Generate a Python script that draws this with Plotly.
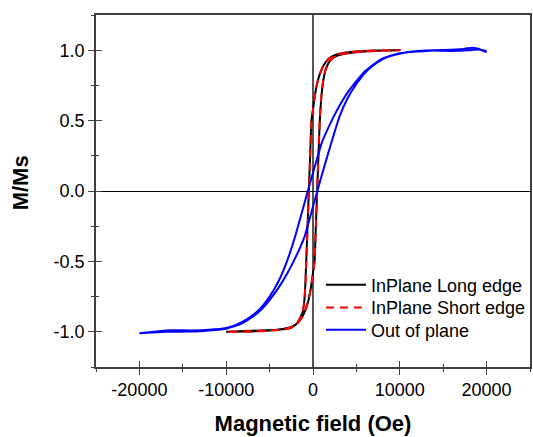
import plotly.graph_objects as go

# ---- data ----
# InPlane Long edge: descending branch then ascending branch
long_desc_h = [10000, 7000, 5000, 3500, 2500, 1800, 1300, 900, 500, 200, 0, -180, -330, -480, -630, -780,
               -880, -1000, -1200, -1550, -2000, -2700, -4000, -6000, -8000, -10000]
long_desc_m = [1.0, 0.997, 0.99, 0.98, 0.965, 0.94, 0.9, 0.85, 0.77, 0.67, 0.58, 0.5, 0.25, 0.0, -0.25, -0.5,
               -0.66, -0.78, -0.86, -0.91, -0.95, -0.975, -0.985, -0.99, -0.995, -1.0]
long_asc_h = [-10000, -7000, -5000, -3500, -2500, -1800, -1300, -900, -500, -200, 0, 180, 330, 480, 630, 780,
              950, 1150, 1450, 1800, 2300, 3000, 4000, 5000, 7000, 10000]
long_asc_m = [-1.0, -0.997, -0.99, -0.98, -0.965, -0.94, -0.9, -0.85, -0.77, -0.67, -0.58, -0.5, -0.25, 0.0, 0.25, 0.5,
              0.66, 0.77, 0.86, 0.91, 0.945, 0.965, 0.978, 0.986, 0.995, 1.0]

# InPlane Short edge
short_desc_h = [10000, 7000, 5000, 3500, 2500, 1800, 1300, 900, 500, 200, 0, -170, -320, -470, -620, -770,
                -870, -990, -1200, -1550, -2000, -2700, -4000, -6000, -8000, -10000]
short_desc_m = [1.0, 0.997, 0.99, 0.979, 0.963, 0.938, 0.9, 0.85, 0.77, 0.67, 0.58, 0.5, 0.25, 0.0, -0.25, -0.5,
                -0.66, -0.78, -0.86, -0.91, -0.95, -0.976, -0.988, -0.993, -0.997, -1.0]
short_asc_h = [-10000, -7000, -5000, -3500, -2500, -1800, -1300, -900, -500, -200, 0, 170, 320, 470, 620, 770,
               940, 1140, 1440, 1800, 2300, 3000, 4000, 5000, 7000, 10000]
short_asc_m = [-1.0, -0.998, -0.992, -0.982, -0.967, -0.94, -0.9, -0.85, -0.77, -0.67, -0.58, -0.5, -0.25, 0.0, 0.25, 0.5,
               0.66, 0.77, 0.86, 0.91, 0.945, 0.966, 0.979, 0.987, 0.995, 1.0]

# Out of plane
oop_desc_h = [20000, 19000, 18000, 16000, 14000, 12000, 11000, 10000, 9000, 8000, 7000, 6000, 5000, 4000, 3000,
              2000, 1000, 0, -600, -1000, -2000, -3000, -4000, -5000, -6000, -7000, -8000, -9000, -10000,
              -12000, -14000, -17000, -20000]
oop_desc_m = [0.995, 1.005, 1.0, 0.995, 0.998, 0.99, 0.985, 0.975, 0.96, 0.94, 0.9, 0.85, 0.78, 0.70, 0.60,
              0.48, 0.34, 0.13, 0.0, -0.09, -0.31, -0.50, -0.645, -0.75, -0.83, -0.885, -0.925, -0.955, -0.972,
              -0.985, -0.99, -0.99, -1.01]
oop_asc_h = [-20000, -17000, -14000, -12000, -10000, -9000, -8000, -7000, -6000, -5000, -4000, -3000, -2000,
             -1000, 0, 500, 1000, 2000, 3000, 4000, 5000, 6000, 7000, 8000, 9000, 10000, 11000, 12000, 14000,
             16000, 17500, 18300, 19000, 20000]
oop_asc_m = [-1.01, -1.0, -0.998, -0.99, -0.978, -0.96, -0.935, -0.895, -0.845, -0.775, -0.69, -0.59, -0.47,
             -0.33, -0.11, 0.0, 0.11, 0.32, 0.52, 0.66, 0.76, 0.84, 0.895, 0.935, 0.962, 0.978, 0.988, 0.994, 1.0,
             1.004, 1.01, 1.018, 1.01, 0.985]

series_names = ["InPlane Long edge", "InPlane Short edge", "Out of plane"]
x_ticks = [-20000, -10000, 0, 10000, 20000]
x_tick_labels = ["-20000", "-10000", "0", "10000", "20000"]
y_ticks = [-1.0, -0.5, 0.0, 0.5, 1.0]
y_tick_labels = ["-1.0", "-0.5", "0.0", "0.5", "1.0"]

# ---- figure ----
FONT = "Liberation Sans, Arial"
fig = go.Figure()
fig.add_trace(go.Scatter(x=long_desc_h + long_asc_h, y=long_desc_m + long_asc_m, mode="lines",
                         name=series_names[0], legend="legend",
                         line=dict(color="black", width=2, shape="spline", smoothing=0.4)))
fig.add_trace(go.Scatter(x=short_desc_h + short_asc_h, y=short_desc_m + short_asc_m, mode="lines",
                         name=series_names[1], legend="legend2",
                         line=dict(color="red", width=2, dash="8px,6px", shape="spline", smoothing=0.4)))
fig.add_trace(go.Scatter(x=oop_desc_h + oop_asc_h, y=oop_desc_m + oop_asc_m, mode="lines",
                         name=series_names[2], legend="legend3",
                         line=dict(color="#0000ff", width=2, shape="spline", smoothing=0.4)))
# dummy trace for overlay axes (inside ticks)
fig.add_trace(go.Scatter(x=[None], y=[None], xaxis="x2", yaxis="y2", showlegend=False, hoverinfo="skip"))

XR = [-25000, 25000]
YR = [-1.25, 1.25]
axcol = "#404040"
tickfont = dict(family=FONT, size=18, color="black")
x_minor = [-25000, -15000, -5000, 5000, 15000, 25000]
y_minor = [-1.25, -0.75, -0.25, 0.25, 0.75, 1.25]

def leg(ypix):
    return dict(x=(322 - 96) / 436, y=(367 - ypix) / 352, xanchor="left", yanchor="middle",
                bgcolor="rgba(0,0,0,0)", borderwidth=0, itemwidth=40,
                font=dict(size=18, family=FONT, color="black"))

fig.update_layout(
    width=533, height=437,
    margin=dict(l=96, r=1, t=15, b=70),
    paper_bgcolor="white", plot_bgcolor="white",
    font=dict(family=FONT, color="black"),
    xaxis=dict(range=XR, tickvals=x_ticks, ticktext=x_tick_labels, ticks="outside", ticklen=6, tickwidth=1,
               tickcolor=axcol,
               minor=dict(tickvals=x_minor, ticks="outside", ticklen=3, tickcolor=axcol, tickwidth=1),
               showline=True, linecolor=axcol, linewidth=1.5, mirror=True, showgrid=False,
               zeroline=True, zerolinecolor="#555555", zerolinewidth=1.5,
               tickfont=tickfont, ticklabelstandoff=0,
               title=dict(text="<b>Magnetic field (Oe)</b>", font=dict(size=22, family=FONT),
                          standoff=16)),
    yaxis=dict(range=YR, tickvals=y_ticks, ticktext=y_tick_labels, ticks="outside", ticklen=6, tickwidth=1,
               tickcolor=axcol,
               minor=dict(tickvals=y_minor, ticks="outside", ticklen=3, tickcolor=axcol, tickwidth=1),
               showline=True, linecolor=axcol, linewidth=1.5, mirror=True, showgrid=False,
               zeroline=True, zerolinecolor="black", zerolinewidth=1,
               tickfont=tickfont, ticklabelstandoff=0),
    xaxis2=dict(range=XR, overlaying="x", anchor="y2", side="bottom", tickvals=x_ticks, ticks="inside",
                ticklen=6, tickwidth=1, tickcolor=axcol,
                minor=dict(tickvals=x_minor, ticks="inside", ticklen=3, tickcolor=axcol, tickwidth=1),
                showticklabels=False, showline=False, showgrid=False, zeroline=False),
    yaxis2=dict(range=YR, overlaying="y", anchor="x2", side="left", tickvals=y_ticks, ticks="inside",
                ticklen=6, tickwidth=1, tickcolor=axcol,
                minor=dict(tickvals=y_minor, ticks="inside", ticklen=3, tickcolor=axcol, tickwidth=1),
                showticklabels=False, showline=False, showgrid=False, zeroline=False),
    legend=leg(285), legend2=leg(307.7), legend3=leg(330),
    annotations=[dict(text="<b>M/Ms</b>", textangle=-90, xref="paper", yref="paper",
                      x=(20 - 96) / 436, y=(367 - 183) / 352, xanchor="center", yanchor="middle",
                      showarrow=False, font=dict(size=22, family=FONT, color="black"))],
)

fig.write_html("out.html")
